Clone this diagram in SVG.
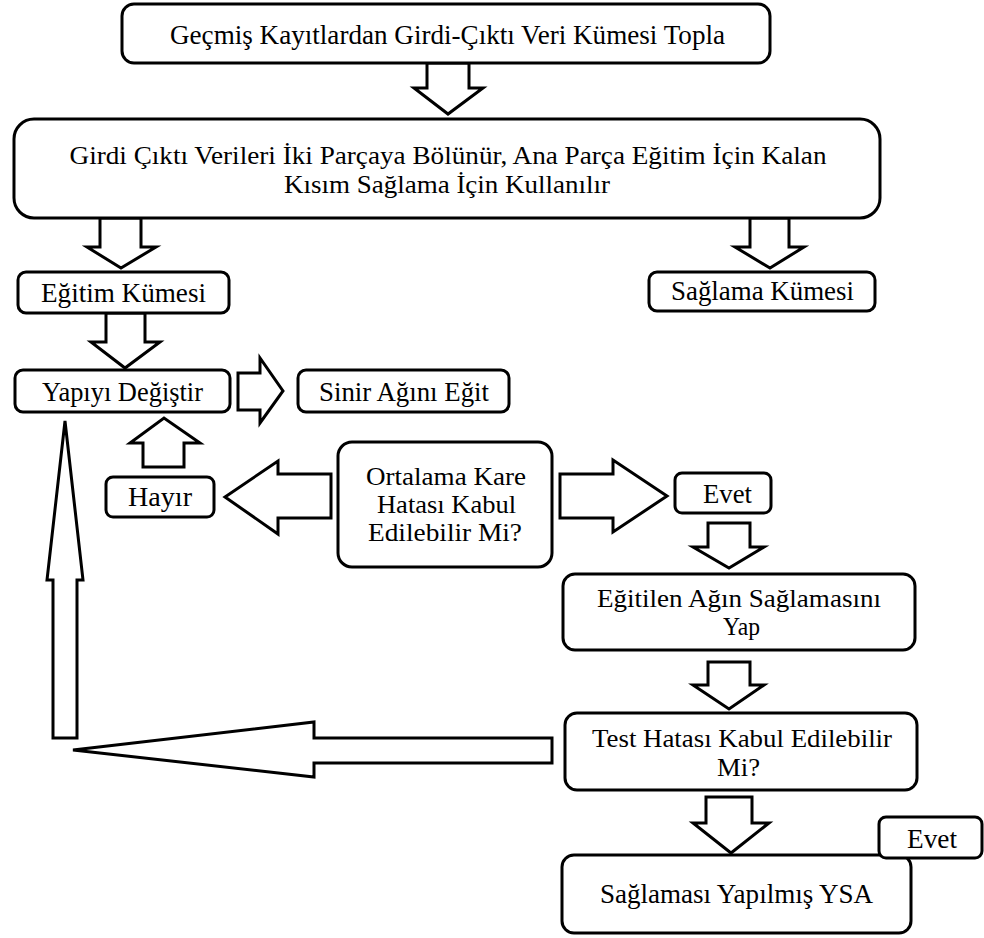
<svg xmlns="http://www.w3.org/2000/svg" width="984" height="938" viewBox="0 0 984 938">
  <style>
    .box { fill: #ffffff; stroke: #000000; stroke-width: 3; }
    .arr { fill: #ffffff; stroke: #000000; stroke-width: 3; stroke-linejoin: miter; }
    .lbl { font-family: "Liberation Serif", "Times New Roman", serif; font-size: 27px; fill: #000000; text-anchor: middle; }
    .ml { font-size: 26px; }
  </style>
  <rect width="984" height="938" fill="#ffffff"/>

  <!-- block arrows -->
  <g id="connectors">
    <polygon class="arr" points="427,63 469,63 469,88 483,88 448,114 414,88 427,88"/>
    <polygon class="arr" points="100,218 141,218 141,247 156,247 121,268 87,247 100,247"/>
    <polygon class="arr" points="750,218 789,218 789,247 804,247 770,268 735,247 750,247"/>
    <polygon class="arr" points="106,313 145,313 145,342 160,342 125,368 91,342 106,342"/>
    <polygon class="arr" points="238,373 260,373 260,358 283,391 260,423 260,410 238,410"/>
    <polygon class="arr" points="143,467 143,443 130,443 164,418 200,443 184,443 184,467"/>
    <polygon class="arr" points="331,474 278,474 278,461 225,497 278,534 278,518 331,518"/>
    <polygon class="arr" points="560,474 613,474 613,460 667,496 613,532 613,518 560,518"/>
    <polygon class="arr" points="708,523 750,523 750,547 764,547 729,568 693,547 708,547"/>
    <polygon class="arr" points="708,662 750,662 750,685 764,685 729,709 693,685 708,685"/>
    <polygon class="arr" points="706,797 752,797 752,823 769,823 731,853 693,823 706,823"/>
    <polygon class="arr" points="552,738 314,738 314,722 73,750 314,777 314,763 552,763"/>
    <polygon class="arr" points="53,738 53,580 47,580 65,421 83,580 77,580 77,738"/>
  </g>

  <g id="collect">
    <rect class="box" x="122" y="4" width="648" height="59" rx="12"/>
    <text class="lbl" x="447.5" y="44" textLength="555" lengthAdjust="spacingAndGlyphs">Geçmiş Kayıtlardan Girdi-Çıktı Veri Kümesi Topla</text>
  </g>

  <g id="split">
    <rect class="box" x="14" y="119" width="866" height="99" rx="20"/>
    <text class="lbl ml" x="448" y="164" textLength="757" lengthAdjust="spacingAndGlyphs">Girdi Çıktı Verileri İki Parçaya Bölünür, Ana Parça Eğitim İçin Kalan</text>
    <text class="lbl ml" x="447" y="193" textLength="326" lengthAdjust="spacingAndGlyphs">Kısım Sağlama İçin Kullanılır</text>
  </g>

  <g id="training-set">
    <rect class="box" x="18" y="272" width="211" height="41" rx="8"/>
    <text class="lbl" x="123.5" y="302" textLength="165" lengthAdjust="spacingAndGlyphs">Eğitim Kümesi</text>
  </g>

  <g id="validation-set">
    <rect class="box" x="649" y="272" width="226" height="39" rx="8"/>
    <text class="lbl" x="762.5" y="300" textLength="183" lengthAdjust="spacingAndGlyphs">Sağlama Kümesi</text>
  </g>

  <g id="change-structure">
    <rect class="box" x="15" y="370" width="215" height="42" rx="8"/>
    <text class="lbl" x="122.5" y="401" textLength="161" lengthAdjust="spacingAndGlyphs">Yapıyı Değiştir</text>
  </g>

  <g id="train-network">
    <rect class="box" x="298" y="370" width="211" height="42" rx="8"/>
    <text class="lbl" x="404" y="401" textLength="170" lengthAdjust="spacingAndGlyphs">Sinir Ağını Eğit</text>
  </g>

  <g id="no">
    <rect class="box" x="106" y="477" width="108" height="40" rx="7"/>
    <text class="lbl" x="160" y="506" textLength="64" lengthAdjust="spacingAndGlyphs">Hayır</text>
  </g>

  <g id="mse-check">
    <rect class="box" x="338" y="442" width="214" height="125" rx="14"/>
    <text class="lbl ml" x="446" y="485" textLength="160" lengthAdjust="spacingAndGlyphs">Ortalama Kare</text>
    <text class="lbl ml" x="446.5" y="513" textLength="139" lengthAdjust="spacingAndGlyphs">Hatası Kabul</text>
    <text class="lbl ml" x="445" y="541" textLength="154" lengthAdjust="spacingAndGlyphs">Edilebilir Mi?</text>
  </g>

  <g id="yes">
    <rect class="box" x="675" y="473" width="96" height="40" rx="7"/>
    <text class="lbl" x="727.5" y="503" textLength="49" lengthAdjust="spacingAndGlyphs">Evet</text>
  </g>

  <g id="validate-network">
    <rect class="box" x="563" y="574" width="352" height="76" rx="12"/>
    <text class="lbl ml" x="739" y="607" textLength="284" lengthAdjust="spacingAndGlyphs">Eğitilen Ağın Sağlamasını</text>
    <text class="lbl ml" x="741.5" y="635" textLength="37" lengthAdjust="spacingAndGlyphs">Yap</text>
  </g>

  <g id="test-check">
    <rect class="box" x="565" y="713" width="352" height="77" rx="12"/>
    <text class="lbl ml" x="742" y="747" textLength="300" lengthAdjust="spacingAndGlyphs">Test Hatası Kabul Edilebilir</text>
    <text class="lbl ml" x="738.5" y="776" textLength="43" lengthAdjust="spacingAndGlyphs">Mi?</text>
  </g>

  <g id="validated-ann">
    <rect class="box" x="562" y="855" width="349" height="78" rx="12"/>
    <text class="lbl" x="736.5" y="903" textLength="273" lengthAdjust="spacingAndGlyphs">Sağlaması Yapılmış YSA</text>
  </g>

  <g id="yes-final">
    <rect class="box" x="879" y="817" width="103" height="41" rx="7"/>
    <text class="lbl" x="932" y="848" textLength="50" lengthAdjust="spacingAndGlyphs">Evet</text>
  </g>
</svg>
